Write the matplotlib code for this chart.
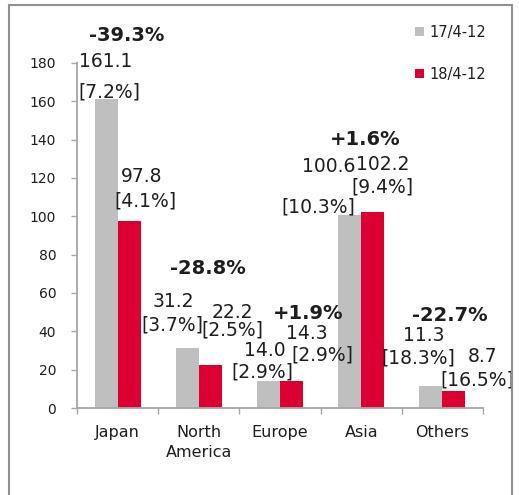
import matplotlib
matplotlib.use("Agg")
import matplotlib.pyplot as plt
from matplotlib.patches import Rectangle
import numpy as np

categories = ["Japan", "North\nAmerica", "Europe", "Asia", "Others"]
series_names = ["17/4-12", "18/4-12"]
values_17 = [161.1, 31.2, 14.0, 100.6, 11.3]
values_18 = [97.8, 22.2, 14.3, 102.2, 8.7]
share_17 = ["7.2%", "3.7%", "2.9%", "10.3%", "18.3%"]
share_18 = ["4.1%", "2.5%", "2.9%", "9.4%", "16.5%"]
changes = ["-39.3%", "-28.8%", "+1.9%", "+1.6%", "-22.7%"]
yticks = [0, 20, 40, 60, 80, 100, 120, 140, 160, 180]

# layout: label offsets in pixels (dx, dy up) relative to bar top centre
off17_val = [(0, 38), (-14, 46.5), (-3.5, 31), (-21, 48.4), (-7, 50.5)]
off17_pct = [(3, 7.5), (-15, 23), (-6, 9.5), (-31.6, 8.4), (-13, 28.8)]
off18_val = [(13, 44), (22, 53), (15, 46.6), (9.6, 48), (28.4, 34.6)]
off18_pct = [(16, 20), (22, 35), (30.5, 25.6), (9.6, 25.3), (23.4, 11.3)]
off_chg = [(9.4, 64), (9.5, 80), (28, 67), (3.6, 73), (7.4, 71.3)]

GRAY = "#BFBFBF"
RED = "#DC0032"
TXT = "#1E1E1E"
AX = "#A6A6A6"

W, H = 519, 495
fig = plt.figure(figsize=(W / 100, H / 100), dpi=100)
plt.rcParams["font.family"] = ["DejaVu Sans"]

ax = fig.add_axes([77 / W, 1 - 408 / H, (483 - 77) / W, (408 - 63) / H])
x = np.arange(len(categories))
bw = 0.283
b1 = ax.bar(x - bw / 2, values_17, bw, color=GRAY, label=series_names[0])
b2 = ax.bar(x + bw / 2, values_18, bw, color=RED, label=series_names[1])

ax.set_xlim(-0.5, len(categories) - 0.5)
ax.set_ylim(0, 180)
ax.set_yticks(yticks)
ax.set_yticklabels([str(v) for v in yticks])
ax.set_xticks(x)
ax.set_xticklabels(categories, linespacing=1.45)
ax.set_xticks(np.arange(len(categories) + 1) - 0.5, minor=True)

for s in ["top", "right"]:
    ax.spines[s].set_visible(False)
for s in ["left", "bottom"]:
    ax.spines[s].set_color(AX)
    ax.spines[s].set_linewidth(1.3)

ax.tick_params(axis="y", length=4, width=1.0, color=AX, pad=11, labelsize=10, labelcolor=TXT)
ax.tick_params(axis="x", which="major", length=0, pad=12, labelsize=11.5, labelcolor=TXT)
ax.tick_params(axis="x", which="minor", length=4.5, width=1.0, color=AX, direction="out")

fs_val = 13.5
for i in range(len(categories)):
    bx1 = x[i] - bw / 2
    bx2 = x[i] + bw / 2
    ax.annotate(f"{values_17[i]:.1f}", (bx1, values_17[i]), xytext=off17_val[i],
                textcoords="offset pixels", ha="center", va="center", fontsize=fs_val, color=TXT)
    ax.annotate(f"[{share_17[i]}]", (bx1, values_17[i]), xytext=off17_pct[i],
                textcoords="offset pixels", ha="center", va="center", fontsize=fs_val, color=TXT)
    ax.annotate(f"{values_18[i]:.1f}", (bx2, values_18[i]), xytext=off18_val[i],
                textcoords="offset pixels", ha="center", va="center", fontsize=fs_val, color=TXT)
    ax.annotate(f"[{share_18[i]}]", (bx2, values_18[i]), xytext=off18_pct[i],
                textcoords="offset pixels", ha="center", va="center", fontsize=fs_val, color=TXT)
    top = max(values_17[i], values_18[i])
    ax.annotate(changes[i], (x[i], top), xytext=off_chg[i],
                textcoords="offset pixels", ha="center", va="center", fontsize=14,
                fontweight="bold", color=TXT)

leg = ax.legend(loc="upper left", bbox_to_anchor=(415 / W, 1 - 25 / H),
                bbox_transform=fig.transFigure, frameon=False, fontsize=10.5,
                handlelength=0.6, handleheight=0.6, handletextpad=0.4,
                labelspacing=1.85, borderpad=0, borderaxespad=0)
for t in leg.get_texts():
    t.set_color(TXT)

# outer frame
fig.patches.append(Rectangle((8.5 / W, -0.05), (512 - 8.5) / W, 1 - 4.5 / H + 0.05,
                             transform=fig.transFigure, fill=False,
                             edgecolor="#909090", linewidth=1.5, zorder=10))

fig.savefig("out.png", dpi=100)
